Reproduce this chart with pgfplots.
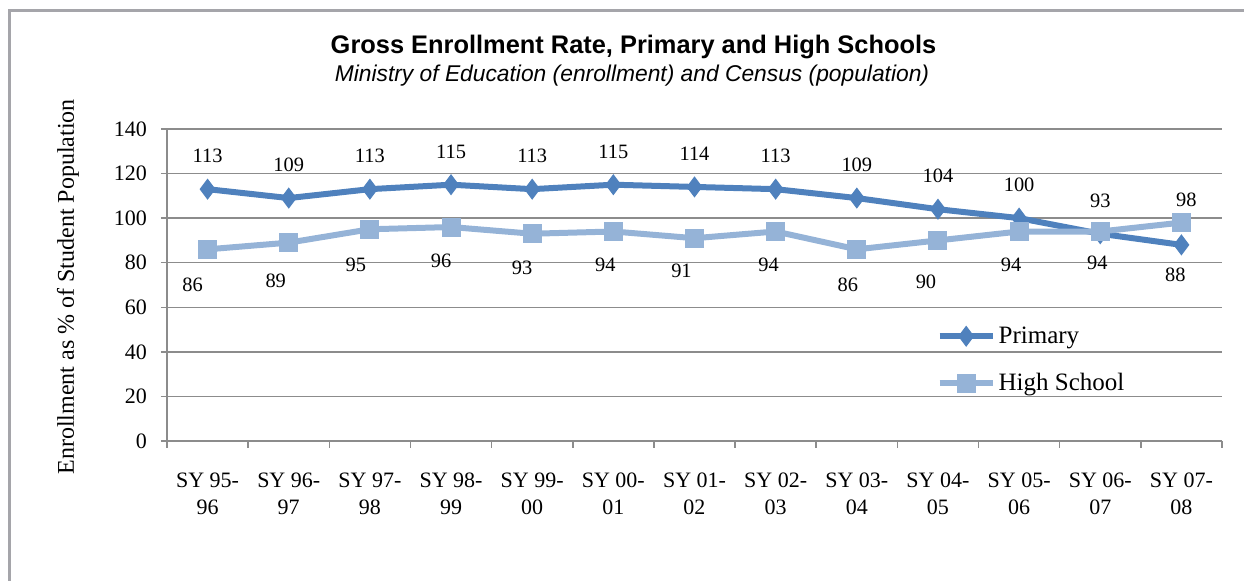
\documentclass[border=0pt]{standalone}
\usepackage{pgfplots}
\usepackage{pgfplotstable}
\pgfplotsset{compat=1.18}
\usepackage{fontspec}
\setmainfont{Liberation Serif}
\newfontfamily\arialfont{Liberation Sans}
\definecolor{primc}{RGB}{79,129,189}
\definecolor{hsc}{RGB}{149,179,215}
\definecolor{gridc}{RGB}{140,140,140}
\definecolor{framec}{RGB}{165,165,170}

\pgfplotstableread{
x y dx dy
0 113 0 16.5
1 109 0 16.5
2 113 0 16.5
3 115 0 16.5
4 113 0 16.5
5 115 0 16.5
6 114 0 16.5
7 113 0 16.5
8 109 0 16.5
9 104 0 16.5
10 100 0 16.5
11 93 0 16.5
12 88 -3 -15
}\primary

\pgfplotstableread{
x y dx dy
0 86 -7.5 -17.9
1 89 -6.5 -19.2
2 95 -7 -17.9
3 96 -5 -17
4 93 -5 -17.2
5 94 -4 -16.8
6 91 -6.5 -16.4
7 94 -3.5 -16.8
8 86 -4.5 -17.9
9 90 -6 -20.8
10 94 -4 -16.8
11 94 -1.5 -15.8
12 98 2.5 11.3
}\highschool

\begin{document}
\begin{tikzpicture}
\useasboundingbox (0,0) rectangle (622pt,290.5pt);
\draw[line width=1.5pt, color=framec] (4.75pt,-5pt) -- (4.75pt,285.25pt) -- (630pt,285.25pt);
\begin{axis}[
  at={(83.5pt,70pt)}, anchor=south west,
  scale only axis, width=527.5pt, height=156pt,
  xmin=-0.5, xmax=12.5, ymin=0, ymax=140,
  ytick={0,20,...,140},
  xtick={0,...,12},
  xticklabels={{SY 95-\\96},{SY 96-\\97},{SY 97-\\98},{SY 98-\\99},{SY 99-\\00},{SY 00-\\01},{SY 01-\\02},{SY 02-\\03},{SY 03-\\04},{SY 04-\\05},{SY 05-\\06},{SY 06-\\07},{SY 07-\\08}},
  minor xtick={-0.5,0.5,...,12.5},
  axis x line*=bottom, axis y line*=left,
  ymajorgrids,
  grid style={gridc, line width=0.75pt},
  axis line style={gridc, line width=0.75pt},
  tick style={gridc, line width=0.75pt},
  tick align=outside,
  major tick length=3pt,
  minor tick length=3.5pt,
  every major x tick/.append style={draw=none},
  /pgf/number format/assume math mode=true,
  yticklabel style={font=\fontsize{11pt}{13pt}\selectfont, text=black, xshift=-3.5pt},
  xticklabel style={font=\fontsize{11pt}{13.5pt}\selectfont, align=center, text=black, yshift=-9.5pt},
  every axis y label/.style={at={(axis description cs:-0.0938,0.4936)}, rotate=90, anchor=center},
  ylabel={\fontsize{12pt}{14pt}\selectfont Enrollment as \% of Student Population},
  legend style={at={(0.7235,0.394)}, anchor=north west, draw=none, fill=none,
    font=\fontsize{12.5pt}{15pt}\selectfont, row sep=9.5pt, nodes={inner xsep=1.5pt}},
  legend cell align=left,
  legend image code/.code={\draw[#1, mark repeat=2, mark phase=2] plot coordinates {(0pt,0pt)(13.25pt,0pt)(26.5pt,0pt)};},
  nodes near coords,
  visualization depends on={\thisrow{dx} \as \dx},
  visualization depends on={\thisrow{dy} \as \dy},
  every node near coord/.style={anchor=center, xshift=\dx pt, yshift=\dy pt, text=black, font=\fontsize{10.2pt}{12pt}\selectfont},
]
\addplot[color=primc, line width=3pt, mark=diamond*, mark size=4.9pt,
  mark options={fill=primc, draw=primc, line width=0.5pt, solid}] table[x=x,y=y] {\primary};
\addlegendentry{Primary}
\addplot[color=hsc, line width=3pt, mark=square*, mark size=4.5pt,
  mark options={fill=hsc, draw=hsc, line width=0.5pt, solid}] table[x=x,y=y] {\highschool};
\addlegendentry{High School}
\end{axis}
\node[font=\arialfont\bfseries\fontsize{12.7pt}{15pt}\selectfont] at (316.75pt,267pt) {Gross Enrollment Rate, Primary and High Schools};
\node[font=\arialfont\itshape\fontsize{11.4pt}{14pt}\selectfont] at (316pt,252.5pt) {Ministry of Education (enrollment) and Census (population)};
\end{tikzpicture}
\end{document}
